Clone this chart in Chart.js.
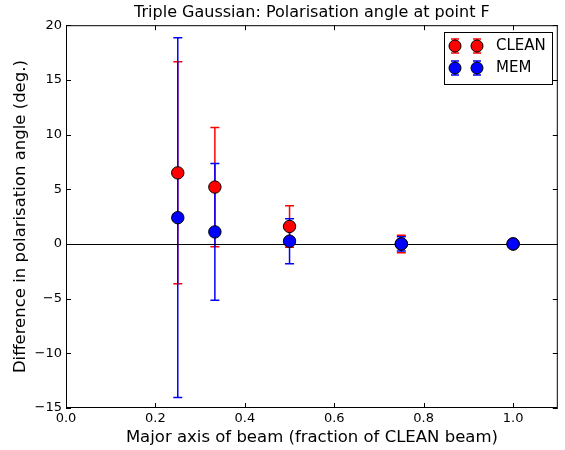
<!DOCTYPE html>
<html>
<head>
<meta charset="utf-8">
<script src="https://cdn.jsdelivr.net/npm/chart.js@4.4.1/dist/chart.umd.min.js"></script>
<style>
body { margin: 0; background: #fff; }
#wrap { width: 565px; height: 450px; }
</style>
</head>
<body>
<div id="wrap"><canvas id="mycanvas"></canvas></div>
<script>
// beam major axis (fraction of CLEAN beam)
var beam = [0.25, 0.333, 0.5, 0.75, 1.0];
var cleanVal = [6.5, 5.2, 1.6, 0.0, 0.0];
var cleanErr = [10.15, 5.45, 1.9, 0.8, 0.0];
var memVal = [2.4, 1.1, 0.25, 0.0, 0.0];
var memErr = [16.45, 6.25, 2.05, 0.65, 0.0];
var xTicks = [0.0, 0.2, 0.4, 0.6, 0.8, 1.0];
var yTicks = [-15, -10, -5, 0, 5, 10, 15, 20];

var FONT = "'DejaVu Sans', sans-serif";

function pts(vals, errs) {
	var out = [];
	for (var i = 0; i < beam.length; i++) {
		out.push({x: beam[i], y: vals[i], err: errs[i]});
	}
	return out;
}

function fmtY(v) {
	return v < 0 ? "\u2212" + Math.abs(v) : "" + v;
}

// error bars drawn under all markers
var errorBars = {
	id: "errorBars",
	beforeDatasetsDraw: function(chart) {
		var ctx = chart.ctx;
		var xs = chart.scales.x, ys = chart.scales.y;
		ctx.save();
		chart.data.datasets.forEach(function(ds) {
			ctx.strokeStyle = ds.errColor;
			ctx.lineWidth = 1.5;
			ds.data.forEach(function(p) {
				if (!p.err) return;
				var px = xs.getPixelForValue(p.x);
				var top = ys.getPixelForValue(p.y + p.err);
				var bot = ys.getPixelForValue(p.y - p.err);
				ctx.beginPath();
				ctx.moveTo(px, top); ctx.lineTo(px, bot);
				ctx.moveTo(px - 4.5, top); ctx.lineTo(px + 4.5, top);
				ctx.moveTo(px - 4.5, bot); ctx.lineTo(px + 4.5, bot);
				ctx.stroke();
			});
		});
		ctx.restore();
	}
};

// zero line, axes frame, inward ticks, legend
var frame = {
	id: "frame",
	beforeDatasetsDraw: function(chart) {
		var ctx = chart.ctx, a = chart.chartArea;
		var y0 = Math.round(chart.scales.y.getPixelForValue(0)) + 0.5;
		ctx.save();
		ctx.strokeStyle = "#000";
		ctx.lineWidth = 1;
		ctx.beginPath();
		ctx.moveTo(a.left, y0); ctx.lineTo(a.right, y0);
		ctx.stroke();
		ctx.restore();
	},
	afterDraw: function(chart) {
		var ctx = chart.ctx, a = chart.chartArea;
		var xs = chart.scales.x, ys = chart.scales.y;
		ctx.save();
		ctx.strokeStyle = "#000";
		ctx.lineWidth = 1;
		ctx.strokeRect(a.left + 0.5, a.top + 0.5, a.right - a.left - 1, a.bottom - a.top - 1);
		ctx.beginPath();
		xTicks.forEach(function(v) {
			var px = Math.round(xs.getPixelForValue(v)) + 0.5;
			ctx.moveTo(px, a.bottom); ctx.lineTo(px, a.bottom - 5);
			ctx.moveTo(px, a.top); ctx.lineTo(px, a.top + 5);
		});
		yTicks.forEach(function(v) {
			var py = Math.round(ys.getPixelForValue(v)) + 0.5;
			ctx.moveTo(a.left, py); ctx.lineTo(a.left + 5, py);
			ctx.moveTo(a.right, py); ctx.lineTo(a.right - 5, py);
		});
		ctx.stroke();

		// legend box
		var bx = 444, by = 32, bw = 108, bh = 52;
		ctx.fillStyle = "#fff";
		ctx.fillRect(bx, by, bw, bh);
		ctx.strokeRect(bx + 0.5, by + 0.5, bw, bh);
		chart.data.datasets.forEach(function(ds, i) {
			var cy = 46 + i * 22;
			[455, 477].forEach(function(cx) {
				ctx.strokeStyle = ds.errColor;
				ctx.lineWidth = 1.5;
				ctx.beginPath();
				ctx.moveTo(cx, cy - 7); ctx.lineTo(cx, cy + 7);
				ctx.moveTo(cx - 4, cy - 7); ctx.lineTo(cx + 4, cy - 7);
				ctx.moveTo(cx - 4, cy + 7); ctx.lineTo(cx + 4, cy + 7);
				ctx.stroke();
				ctx.beginPath();
				ctx.arc(cx, cy, 6, 0, Math.PI * 2);
				ctx.fillStyle = ds.backgroundColor;
				ctx.fill();
				ctx.strokeStyle = "#000";
				ctx.lineWidth = 1;
				ctx.stroke();
			});
			ctx.fillStyle = "#000";
			ctx.font = "15px " + FONT;
			ctx.textBaseline = "middle";
			ctx.textAlign = "left";
			ctx.fillText(ds.label, 496, cy);
		});
		ctx.restore();
	}
};

var ctx = document.getElementById("mycanvas");

var chartdata = {
	datasets: [
		{
			label: "CLEAN",
			data: pts(cleanVal, cleanErr),
			backgroundColor: "#ff0000",
			borderColor: "#000000",
			errColor: "#ff0000",
			order: 2
		},
		{
			label: "MEM",
			data: pts(memVal, memErr),
			backgroundColor: "#0000ff",
			borderColor: "#000000",
			errColor: "#0000ff",
			order: 1
		}
	]
};

var new_chart = new Chart(ctx, {
	type: "scatter",
	data: chartdata,
	options: {
		responsive: true,
		maintainAspectRatio: false,
		animation: false,
		layout: { padding: { left: 0, right: 6, top: 0, bottom: 0 } },
		elements: { point: { radius: 6.2, borderWidth: 1, hoverRadius: 6.2 } },
		plugins: {
			legend: { display: false },
			tooltip: { enabled: false },
			title: {
				display: true,
				text: "Triple Gaussian: Polarisation angle at point F",
				color: "#000",
				fullSize: false,
				font: { family: FONT, size: 16, weight: "normal" },
				padding: { top: 3, bottom: 3 }
			}
		},
		scales: {
			x: {
				type: "linear",
				min: 0,
				max: 1.1,
				afterFit: function(s) { s.height = 42; },
				afterBuildTicks: function(s) { s.ticks = xTicks.map(function(v) { return {value: v}; }); },
				grid: { display: false, drawTicks: false },
				border: { display: false },
				ticks: {
					color: "#000",
					padding: 3,
					maxRotation: 0,
					font: { family: FONT, size: 13 },
					callback: function(v) { return Number(v).toFixed(1); }
				},
				title: {
					display: true,
					text: "Major axis of beam (fraction of CLEAN beam)",
					color: "#000",
					font: { family: FONT, size: 16.5 },
					padding: { top: 0, bottom: 2 }
				}
			},
			y: {
				type: "linear",
				min: -15,
				max: 20,
				afterFit: function(s) { s.width = 66; },
				afterBuildTicks: function(s) { s.ticks = yTicks.map(function(v) { return {value: v}; }); },
				grid: { display: false, drawTicks: false },
				border: { display: false },
				ticks: {
					color: "#000",
					padding: 4,
					font: { family: FONT, size: 13 },
					callback: function(v) { return fmtY(v); }
				},
				title: {
					display: true,
					text: "Difference in polarisation angle (deg.)",
					color: "#000",
					font: { family: FONT, size: 16.5 },
					padding: { top: 11, bottom: 0 }
				}
			}
		}
	},
	plugins: [errorBars, frame]
});
</script>
</body>
</html>
